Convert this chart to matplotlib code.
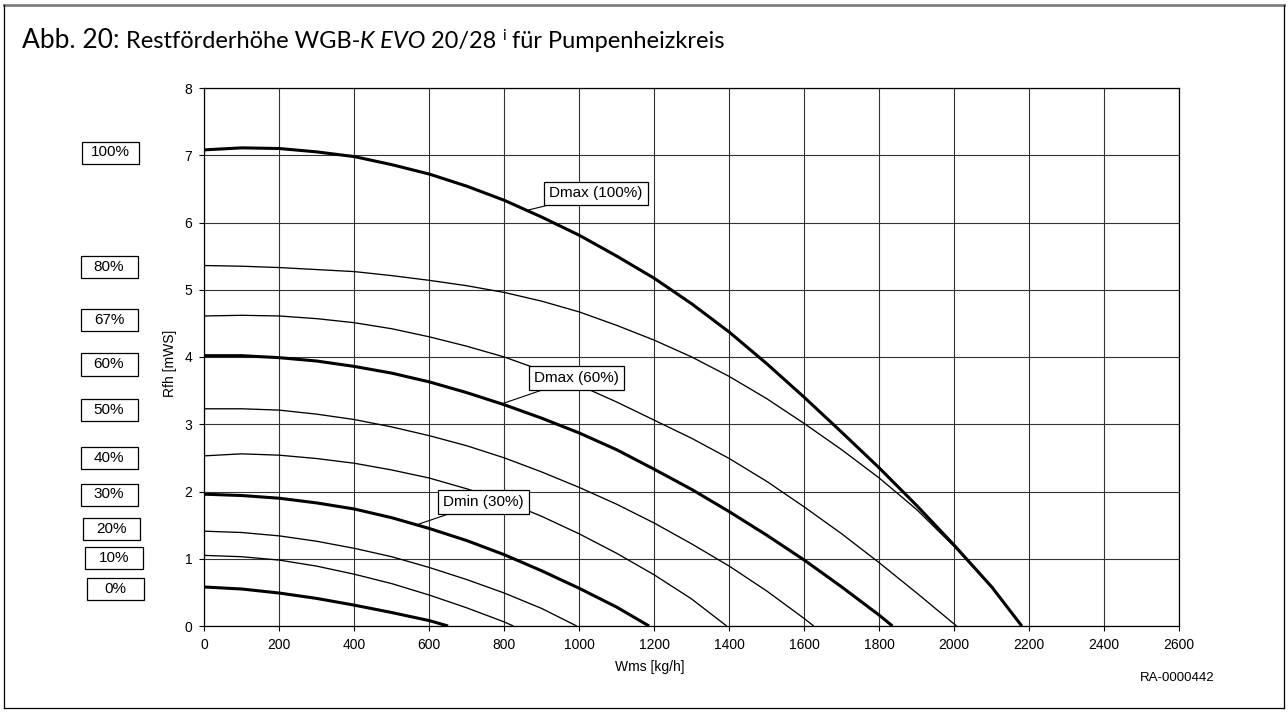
import matplotlib
matplotlib.use("Agg")
import matplotlib.pyplot as plt
from matplotlib.lines import Line2D
from matplotlib.patches import Rectangle
import numpy as np

W, H, DPI = 1288, 713, 100
plt.rcParams['font.family'] = ['Liberation Sans', 'DejaVu Sans']

# %% Curve data (flow Wms in kg/h, residual head Rfh in mWS)
q_100 = [0, 100, 200, 300, 400, 500, 600, 700, 800, 900, 1000, 1100, 1200, 1300, 1400, 1500, 1600, 1700, 1800, 1900, 2000, 2100, 2180]
h_100 = [7.08, 7.11, 7.10, 7.05, 6.98, 6.86, 6.72, 6.54, 6.33, 6.08, 5.81, 5.50, 5.17, 4.79, 4.37, 3.90, 3.40, 2.88, 2.35, 1.79, 1.20, 0.58, 0]

q_80 = [0, 100, 200, 300, 400, 500, 600, 700, 800, 900, 1000, 1100, 1200, 1300, 1400, 1500, 1600, 1700, 1800, 1900, 2000, 2100, 2180]
h_80 = [5.36, 5.35, 5.33, 5.30, 5.27, 5.21, 5.14, 5.06, 4.96, 4.83, 4.67, 4.47, 4.25, 4.00, 3.71, 3.38, 3.01, 2.62, 2.20, 1.73, 1.18, 0.57, 0]

q_67 = [0, 100, 200, 300, 400, 500, 600, 700, 800, 900, 1000, 1100, 1200, 1300, 1400, 1500, 1600, 1700, 1800, 1900, 2006]
h_67 = [4.61, 4.62, 4.61, 4.57, 4.51, 4.42, 4.30, 4.16, 4.00, 3.80, 3.58, 3.33, 3.06, 2.79, 2.49, 2.15, 1.77, 1.37, 0.94, 0.49, 0]

q_60 = [0, 100, 200, 300, 400, 500, 600, 700, 800, 900, 1000, 1100, 1200, 1300, 1400, 1500, 1600, 1700, 1800, 1835]
h_60 = [4.02, 4.02, 3.99, 3.94, 3.86, 3.76, 3.63, 3.47, 3.29, 3.09, 2.87, 2.62, 2.33, 2.03, 1.70, 1.35, 0.98, 0.58, 0.16, 0]

q_50 = [0, 100, 200, 300, 400, 500, 600, 700, 800, 900, 1000, 1100, 1200, 1300, 1400, 1500, 1600, 1625]
h_50 = [3.23, 3.23, 3.21, 3.15, 3.07, 2.96, 2.83, 2.68, 2.50, 2.29, 2.06, 1.81, 1.53, 1.22, 0.89, 0.52, 0.11, 0]

q_40 = [0, 100, 200, 300, 400, 500, 600, 700, 800, 900, 1000, 1100, 1200, 1300, 1393]
h_40 = [2.53, 2.56, 2.54, 2.49, 2.42, 2.32, 2.20, 2.04, 1.86, 1.63, 1.37, 1.08, 0.76, 0.40, 0]

q_30 = [0, 100, 200, 300, 400, 500, 600, 700, 800, 900, 1000, 1100, 1186]
h_30 = [1.96, 1.94, 1.90, 1.83, 1.74, 1.61, 1.45, 1.27, 1.06, 0.82, 0.56, 0.28, 0]

q_20 = [0, 100, 200, 300, 400, 500, 600, 700, 800, 900, 993]
h_20 = [1.41, 1.39, 1.34, 1.26, 1.155, 1.03, 0.87, 0.69, 0.49, 0.26, 0]

q_10 = [0, 100, 200, 300, 400, 500, 600, 700, 800, 824]
h_10 = [1.05, 1.03, 0.98, 0.89, 0.77, 0.63, 0.46, 0.27, 0.06, 0]

q_0 = [0, 100, 200, 300, 400, 500, 600, 650]
h_0 = [0.58, 0.55, 0.49, 0.41, 0.31, 0.20, 0.08, 0]

speed_labels = ['100%', '80%', '67%', '60%', '50%', '40%', '30%', '20%', '10%', '0%']
curves = [(q_100, h_100), (q_80, h_80), (q_67, h_67), (q_60, h_60), (q_50, h_50),
          (q_40, h_40), (q_30, h_30), (q_20, h_20), (q_10, h_10), (q_0, h_0)]
thick_curves = ['100%', '60%', '30%', '0%']

# left-hand speed boxes: centre in figure pixels (from top-left)
box_centres = [(110.5, 152.5), (109, 267), (109, 319.7), (109, 364.5), (109, 410),
               (109, 458), (109, 494.5), (111.7, 529), (114, 558), (115, 588.7)]

x_ticks = list(range(0, 2601, 200))
y_ticks = list(range(0, 9))


def fx(px):
    return px / W


def fy(py):
    return 1 - py / H


# %% Figure
fig = plt.figure(figsize=(W / DPI, H / DPI), dpi=DPI)
ax = fig.add_axes([fx(204.3), 87 / H, 975 / W, 538 / H])

for label, (q, h) in zip(speed_labels, curves):
    lw = 2.2 if label in thick_curves else 0.95
    ax.plot(q, h, color='black', lw=lw, solid_capstyle='butt', zorder=3)

ax.set_xlim(0, 2600)
ax.set_ylim(0, 8)
ax.set_xticks(x_ticks)
ax.set_yticks(y_ticks)
ax.grid(True, color='#333333', lw=0.8)
ax.set_axisbelow(True)
for s in ax.spines.values():
    s.set_color('black')
    s.set_linewidth(0.9)
ax.tick_params(direction='out', length=3.5, width=0.8, labelsize=10, pad=5)

fig.text(fx(170), fy(363), 'Rfh [mWS]', rotation=90, ha='center', va='center', fontsize=10)
fig.text(fx(650), fy(667), 'Wms [kg/h]', ha='center', va='center', fontsize=10)
fig.text(fx(1177), fy(678), 'RA-0000442', ha='center', va='center', fontsize=9.5)

# speed boxes on the left
for label, (cx, cy) in zip(speed_labels, box_centres):
    fig.patches.append(Rectangle((fx(cx - 28.5), fy(cy + 11)), 57 / W, 22 / H,
                                 transform=fig.transFigure, fill=False,
                                 edgecolor='black', lw=0.9))
    fig.text(fx(cx), fy(cy), label, ha='center', va='center', fontsize=11)

# curve annotations
notes = [('Dmax (100%)', h_100, q_100, 860, (596, 193.5)),
         ('Dmax (60%)', h_60, q_60, 793, (576.3, 378.3)),
         ('Dmin (30%)', h_30, q_30, 566, (483.3, 502.2))]
for text, h, q, xq, (cx, cy) in notes:
    ax.annotate(text, xy=(xq, np.interp(xq, q, h)), xytext=(cx, H - cy),
                textcoords='figure pixels', ha='center', va='center', fontsize=11,
                bbox=dict(boxstyle='square,pad=0.32', fc='white', ec='black', lw=0.9),
                arrowprops=dict(arrowstyle='-', color='black', lw=0.8, shrinkA=0, shrinkB=0),
                zorder=5)

# title, built piece by piece
renderer = fig.canvas.get_renderer()
pieces = [('Abb. 20:', 19, 'normal', 0),
          (' Restförderhöhe WGB-', 17, 'normal', 0),
          ('K EVO', 17, 'italic', 0),
          (' 20/28 ', 17, 'normal', 0),
          ('i', 11, 'normal', 8),
          (' für Pumpenheizkreis', 17, 'normal', 0)]
x = 22
for txt, size, style, dy in pieces:
    t = fig.text(fx(x), fy(48 - dy), txt, fontsize=size, fontstyle=style,
                 family=['Lato', 'DejaVu Sans'], ha='left', va='baseline')
    x += t.get_window_extent(renderer).width

# page frame
fig.add_artist(Line2D([fx(4), fx(1284)], [fy(5), fy(5)], color='#808080', lw=2))
fig.add_artist(Line2D([fx(4), fx(4)], [fy(5), fy(708)], color='black', lw=0.9))
fig.add_artist(Line2D([fx(4), fx(1284)], [fy(708), fy(708)], color='black', lw=0.9))
fig.add_artist(Line2D([fx(1284), fx(1284)], [fy(5), fy(708)], color='black', lw=0.9))

fig.savefig('out.png', dpi=DPI)
